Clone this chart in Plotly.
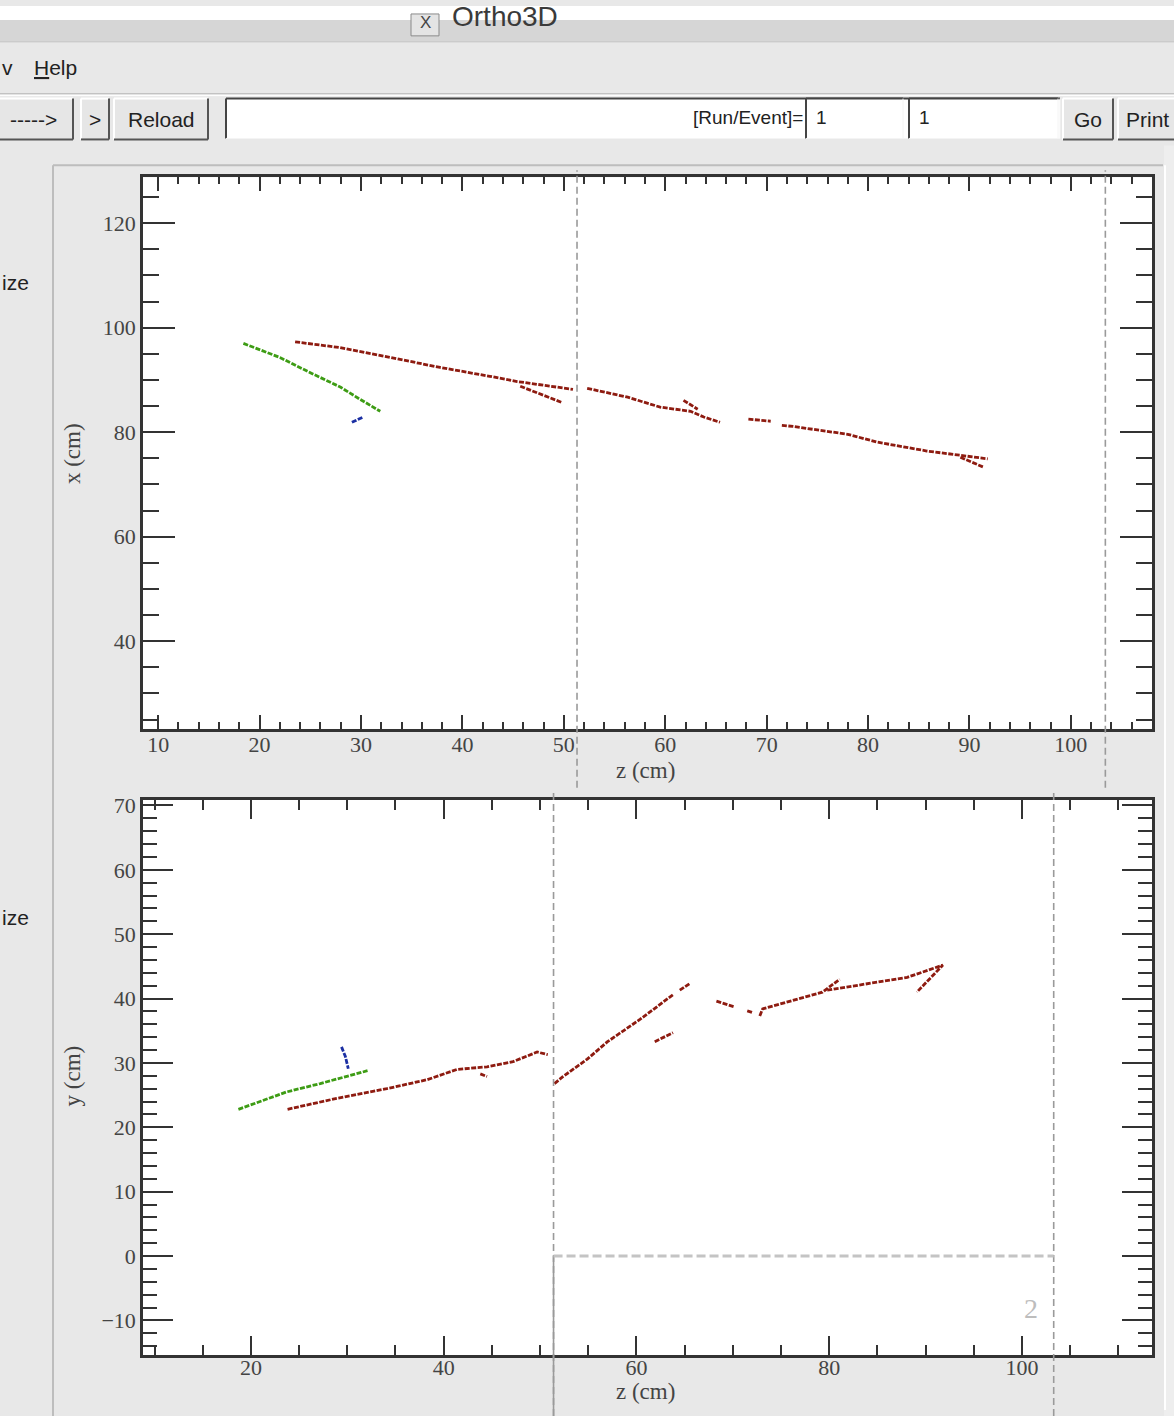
import plotly.graph_objects as go

W, H = 1174, 1416

# ---------------- data ----------------
# top view: z (cm) vs x (cm)
top_red_z = [23.5, 27.9, 32.9, 37.8, 42.7, 45.4, 50.9, None, 52.3, 56.3, 59.5, 62.5, 63.8, 65.4, None,
             68.2, 70.4, None, 71.5, 72.6, 78.0, 80.9, 85.8, 91.8, None, 45.7, 49.8, None,
             61.8, 63.2, None, 89.1, 91.4]
top_red_x = [97.3, 96.2, 94.3, 92.4, 90.7, 89.7, 88.2, None, 88.4, 86.7, 84.8, 84.0, 82.9, 81.9, None,
             82.5, 82.1, None, 81.3, 81.1, 79.6, 78.1, 76.4, 74.9, None, 88.8, 85.7, None,
             86.1, 84.4, None, 75.2, 73.3]
top_green_z = [18.4, 22.0, 25.3, 28.0, 29.9, 31.9]
top_green_x = [97.0, 94.3, 91.1, 88.6, 86.3, 84.0]
top_blue_z = [29.1, 30.2]
top_blue_x = [81.9, 82.9]

# bottom view: z (cm) vs y (cm)
bot_red_z = [23.8, 28.9, 34.1, 38.3, 41.4, 44.5, 47.2, 49.7, 50.8, None, 43.8, 44.5, None,
             51.5, 52.4, 54.9, 57.0, 60.4, 63.8, None, 64.5, 65.5, None, 61.9, 63.8, None,
             68.3, 70.2, None, 71.5, 72.1, None, 72.8, 73.1, 79.3, 81.1, None,
             79.8, 88.1, 91.8, 89.1]
bot_red_y = [22.8, 24.5, 26.0, 27.4, 29.0, 29.4, 30.2, 31.7, 31.3, None, 28.3, 27.9, None,
             26.8, 27.9, 30.6, 33.3, 36.8, 40.6, None, 41.3, 42.3, None, 33.3, 34.7, None,
             39.6, 38.7, None, 38.1, 37.8, None, 37.3, 38.4, 41.0, 43.0, None,
             41.3, 43.3, 45.2, 41.0]
bot_green_z = [18.7, 23.7, 27.2, 30.0, 32.1]
bot_green_y = [22.8, 25.5, 26.8, 28.0, 28.8]
bot_blue_z = [29.4, 29.8, 30.1]
bot_blue_y = [32.5, 31.0, 29.1]

# detector boundaries (z, cm)
top_bounds_z = [51.3, 103.4]
bot_bounds_z = [51.4, 103.3]
bot_zero_y = 0.0
label_2 = (100.9, -8.2)

RED, GREEN, BLUE = "#8e1b10", "#3d9c14", "#1b2fa3"

def PX(x):
    return x / W

def PY(y):
    return 1 - y / H

fig = go.Figure()

def track(z, v, color, xa, ya):
    fig.add_trace(go.Scatter(x=z, y=v, mode="lines", xaxis=xa, yaxis=ya,
                             line=dict(color=color, width=2.8, dash="5px,1.5px"),
                             connectgaps=False, hoverinfo="skip", showlegend=False))

track(top_red_z, top_red_x, RED, "x", "y")
track(top_green_z, top_green_x, GREEN, "x", "y")
track(top_blue_z, top_blue_x, BLUE, "x", "y")
track(bot_red_z, bot_red_y, RED, "x2", "y2")
track(bot_green_z, bot_green_y, GREEN, "x2", "y2")
track(bot_blue_z, bot_blue_y, BLUE, "x2", "y2")

shapes = []
ann = []

def rect(x0, y0, x1, y1, fill, line=None, lw=0, layer="below"):
    shapes.append(dict(type="rect", xref="paper", yref="paper", x0=PX(x0), x1=PX(x1), y0=PY(y0), y1=PY(y1),
                       fillcolor=fill, line=dict(color=line or fill, width=lw), layer=layer))

def seg(x0, y0, x1, y1, color, w=1, layer="below", dash="solid"):
    shapes.append(dict(type="line", xref="paper", yref="paper", x0=PX(x0), x1=PX(x1), y0=PY(y0), y1=PY(y1),
                       line=dict(color=color, width=w, dash=dash), layer=layer))

def text(x, y, s, size=19, color="#222", xanchor="center", family="Liberation Sans, Arial, sans-serif", angle=0):
    ann.append(dict(xref="paper", yref="paper", x=PX(x), y=PY(y), text=s, showarrow=False,
                    xanchor=xanchor, yanchor="middle", textangle=angle,
                    font=dict(size=size, color=color, family=family)))

# ---------------- GUI chrome (outside the plot areas) ----------------
rect(0, 0, W, 14, "#ffffff")
rect(0, 14, W, 36, "#d6d6d6")
seg(0, 36, W, 36, "#c4c4c4", 1)
seg(0, 88, W, 88, "#bdbdbd", 1)
seg(0, 90, W, 90, "#ffffff", 1)

# title bar icon and title (clipped at the top edge)
rect(411, 8, 439, 30, "#e4e4e4", "#8a8a8a", 1)
text(425, 17, "X", 17, "#444")
text(505, 11, "Ortho3D", 28, "#3a3a3a")

# menu
text(0, 62, "v", 21, "#222", "left")
text(32, 62, "<u>H</u>elp", 21, "#222", "left")

def button(x0, x1, label, tx=None):
    rect(x0, 93, x1, 134, "#e6e6e6")
    seg(x0, 93, x1, 93, "#ffffff", 2)
    seg(x0, 93, x0, 134, "#ffffff", 2)
    seg(x0, 134, x1, 134, "#555555", 2)
    seg(x1, 93, x1, 134, "#555555", 2)
    if tx is None:
        text((x0 + x1) / 2, 114, label, 21, "#222")
    else:
        text(tx, 114, label, 21, "#222", "left")

button(-6, 73, "----->")
button(81, 109, ">")
button(114, 208, "Reload")
button(1063, 1113, "Go")
button(1118, 1196, "Print", tx=1124)

def entry(x0, x1):
    rect(x0, 93, x1, 133, "#ffffff")
    seg(x0, 93, x1, 93, "#444444", 2)
    seg(x0, 93, x0, 133, "#444444", 2)
    seg(x0, 133, x1, 133, "#f4f4f4", 1)
    seg(x1, 93, x1, 133, "#f4f4f4", 1)

entry(226, 1060)
entry(806, 903)
entry(909, 1058)
text(805, 112, "[Run/Event]=", 19, "#222", "right")
text(814, 112, "1", 19, "#222", "left")
text(917, 112, "1", 19, "#222", "left")

# side panel texts
text(0, 278, "ize", 21, "#222", "left")
text(0, 915, "ize", 21, "#222", "left")

# canvas frame
seg(53, 160, 1163, 160, "#bdbdbd", 2)
seg(53, 160, 53, 1416, "#bdbdbd", 2)
rect(1164, 140, W, H, "#eeeeee")
seg(1165, 160, 1165, 1410, "#ffffff", 2)

# ---------------- detector boundary lines ----------------
for z in top_bounds_z:
    shapes.append(dict(type="line", xref="x", yref="paper", x0=z, x1=z, y0=PY(785), y1=PY(165),
                       line=dict(color="#9a9a9a", width=1.6, dash="7px,4px"), layer="above"))
for z in bot_bounds_z:
    shapes.append(dict(type="line", xref="x2", yref="paper", x0=z, x1=z, y0=0, y1=PY(790),
                       line=dict(color="#9a9a9a", width=1.6, dash="7px,4px"), layer="above"))
# solid line below y=0 at first boundary
shapes.append(dict(type="line", xref="x2", yref="y2", x0=bot_bounds_z[0], x1=bot_bounds_z[0],
                   y0=bot_zero_y, y1=-30, line=dict(color="#9a9a9a", width=1.6), layer="above"))
shapes.append(dict(type="line", xref="x2", yref="paper", x0=bot_bounds_z[0], x1=bot_bounds_z[0],
                   y0=0, y1=PY(1355), line=dict(color="#9a9a9a", width=1.6), layer="above"))
# horizontal dashed line at y = 0
shapes.append(dict(type="line", xref="x2", yref="y2", x0=bot_bounds_z[0], x1=bot_bounds_z[1],
                   y0=bot_zero_y, y1=bot_zero_y, line=dict(color="#c4c4c4", width=3, dash="9px,4px"),
                   layer="above"))

ann.append(dict(xref="x2", yref="y2", x=label_2[0], y=label_2[1], text="2", showarrow=False,
                font=dict(size=28, color="#bdbdbd", family="Liberation Serif, Times New Roman, serif")))

# axis titles
SERIF = "Liberation Serif, Times New Roman, serif"
text(645, 768, "z (cm)", 23, "#444", family=SERIF)
text(645, 1391, "z (cm)", 23, "#444", family=SERIF)
text(72, 450, "x (cm)", 23, "#444", family=SERIF, angle=-90)
text(72, 1075, "y (cm)", 23, "#444", family=SERIF, angle=-90)

tickfont = dict(family=SERIF, size=22, color="#444")

def axis(domain, rng, dtick, mdtick, tlen, mlen, anchor, standoff=0):
    return dict(domain=domain, range=rng, anchor=anchor, dtick=dtick, tick0=0,
                ticks="inside", ticklen=tlen, tickwidth=2, tickcolor="#333",
                minor=dict(ticks="inside", dtick=mdtick, ticklen=mlen, tickwidth=2, tickcolor="#333"),
                showline=True, linecolor="#333", linewidth=2.5, mirror="ticks",
                showgrid=False, zeroline=False, tickfont=tickfont, fixedrange=True,
                ticklabelstandoff=standoff)

fig.update_layout(
    width=W, height=H, margin=dict(l=0, r=0, t=0, b=0),
    paper_bgcolor="#e8e8e8", plot_bgcolor="#ffffff", showlegend=False,
    xaxis=axis([PX(143), PX(1152)], [8.5, 108.0], 10, 2, 14, 7, "y", -6),
    yaxis=axis([PY(726), PY(172)], [23.2, 128.8], 20, 5, 32, 16, "x"),
    xaxis2=axis([PX(143), PX(1152)], [8.8, 113.5], 20, 5, 20, 11, "y2", -9),
    yaxis2=axis([PY(1355), PY(797)], [-15.4, 70.9], 10, 2, 30, 14, "x2"),
    shapes=shapes, annotations=ann,
)

fig.write_html("out.html", config={"displayModeBar": False},
               post_script="document.body.style.margin='0px';")
